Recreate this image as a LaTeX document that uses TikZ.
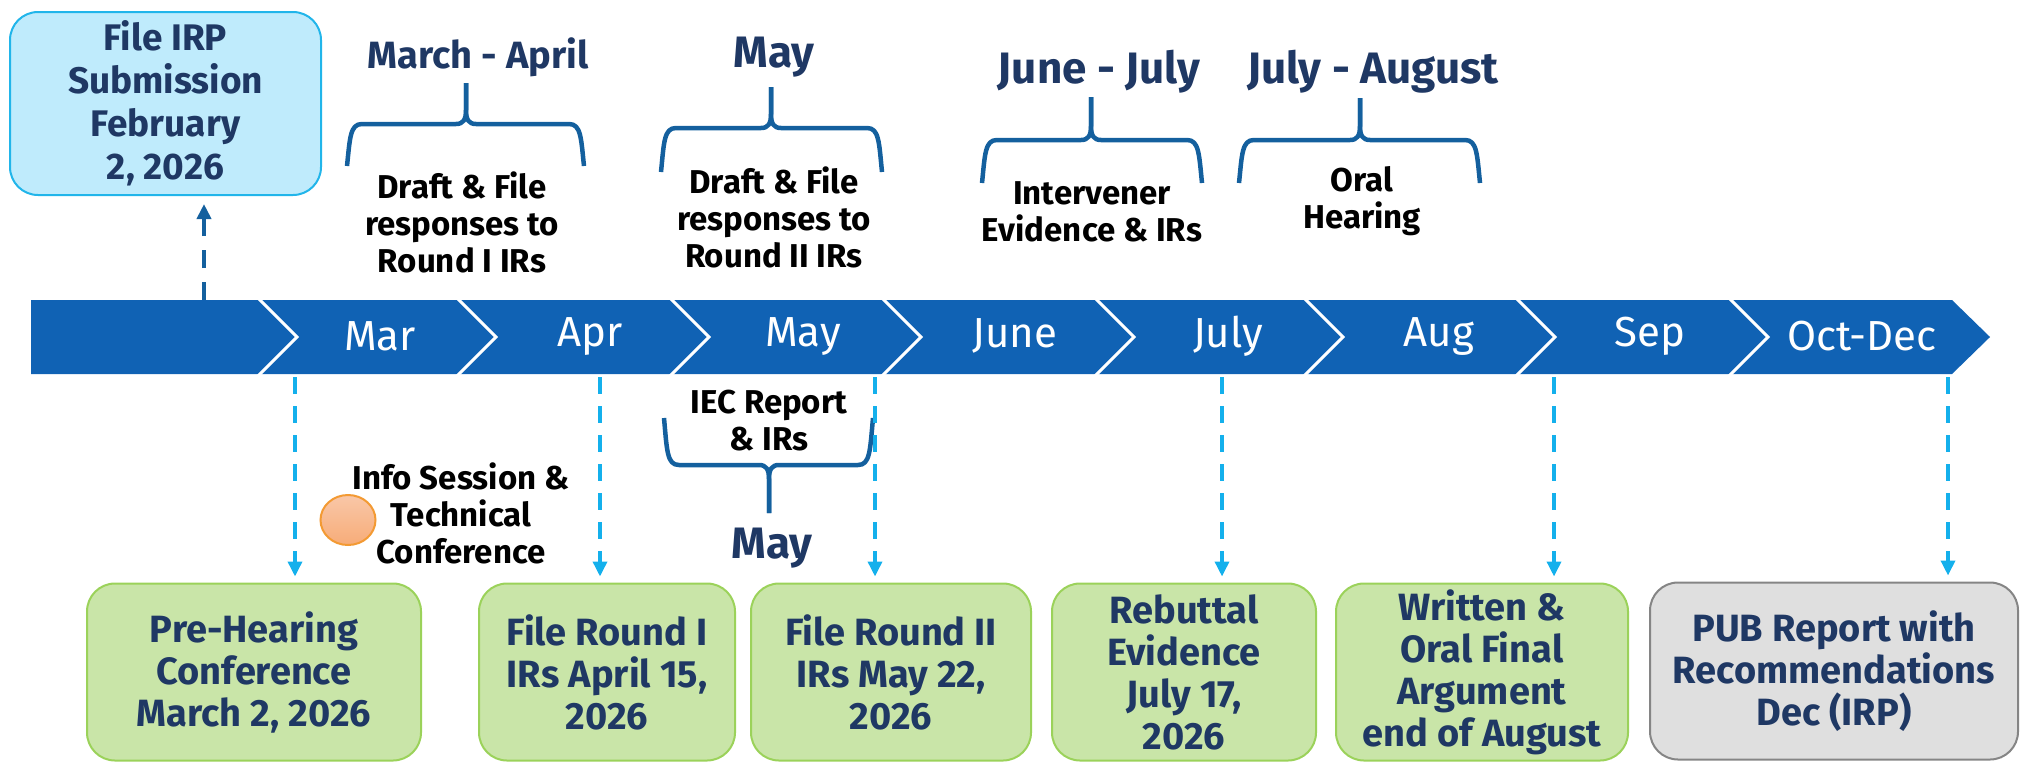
\documentclass[tikz,border=0pt]{standalone}
\usepackage{fontspec}
\setmainfont{Fira Sans}
\usetikzlibrary{arrows.meta,shapes.geometric}
\definecolor{bandblue}{HTML}{1062B4}
\definecolor{navy}{HTML}{1F3864}
\definecolor{bracecol}{HTML}{14609E}
\definecolor{cyanarr}{HTML}{14B0EC}
\definecolor{irpfill}{HTML}{BFEBFC}
\definecolor{irpline}{HTML}{21B5EA}
\definecolor{gfill}{HTML}{C9E5A8}
\definecolor{gline}{HTML}{9BD25A}
\definecolor{grfill}{HTML}{DFDFDF}
\definecolor{grline}{HTML}{858585}
\definecolor{peachA}{HTML}{F9C7A8}
\definecolor{peachB}{HTML}{F7AC78}
\definecolor{orangeline}{HTML}{F39A33}
\newcommand{\mybrace}[7]{%
 \draw[bracestyle] (#1,#5) .. controls ({#1+3},{#4+(14)*(#7)}) and ({#1+3},#4) .. ({#1+15},#4) -- ({#3-10},#4) .. controls ({#3-3},#4) and (#3,{#4-(4)*(#7)}) .. (#3,{#4-(14)*(#7)}) -- (#3,#6);
 \draw[bracestyle] (#2,#5) .. controls ({#2-3},{#4+(14)*(#7)}) and ({#2-3},#4) .. ({#2-15},#4) -- ({#3+10},#4) .. controls ({#3+3},#4) and (#3,{#4-(4)*(#7)}) .. (#3,{#4-(14)*(#7)}) -- (#3,#6);
}
\begin{document}
\begin{tikzpicture}[x=1pt,y=-1pt,
  bracestyle/.style={draw=bracecol,line width=4.5pt,line join=round},
  title/.style={text=navy,font=\fontsize{38}{42}\selectfont\bfseries,align=center,inner sep=0pt},
  bigtitle/.style={title,font=\fontsize{44}{48}\selectfont\bfseries},
  desc/.style={text=black,font=\fontsize{33}{37}\selectfont\bfseries,align=center,inner sep=0pt},
  month/.style={text=white,font=\fontsize{42}{46}\selectfont,inner sep=0pt},
  boxtxt/.style={text=navy,font=\fontsize{38}{42}\selectfont\bfseries,align=center,rounded corners=28pt,line width=2pt,inner sep=0pt},
  gbox/.style={boxtxt,draw=gline,fill=gfill},
  graybox/.style={boxtxt,draw=grline,fill=grfill},
  dnarrow/.style={draw=cyanarr,line width=3.5pt,dash pattern=on 17pt off 12pt,-{Triangle[length=15pt,width=14pt]}},
  uparrow/.style={draw=bracecol,line width=4pt,dash pattern=on 18pt off 14pt,-{Triangle[length=15pt,width=14pt]}}
]
\useasboundingbox (0,0) rectangle (2020,764);

% top-left box
\node[boxtxt,draw=irpline,fill=irpfill,minimum width=311pt,minimum height=183pt,font=\fontsize{37}{43}\selectfont\bfseries] (irp) at (165.5,103.5) {File IRP\\Submission\\February\\2, 2026};

% timeline band
\fill[bandblue] (31,300) -- (1952,300) -- (1990,337) -- (1952,374) -- (31,374) -- cycle;
\foreach \sx in {258,457,670,882,1095,1304,1516,1729}{
  \draw[white,line width=3pt] (\sx,298) -- ({\sx+39},337) -- (\sx,376);
}
\node[month] (mMar) at (380,336) {Mar};
\node[month] (mApr) at (590,336) {Apr};
\node[month] (mMay) at (803,336) {May};
\node[month] (mJun) at (1015,336) {June};
\node[month] (mJul) at (1228,336) {July};
\node[month] (mAug) at (1439,336) {Aug};
\node[month] (mSep) at (1650,336) {Sep};
\node[month] (mOct) at (1862,336) {Oct-Dec};

% up arrow
\coordinate (upstart) at (204,300);
\draw[uparrow,shorten >=8pt] (upstart) -- (upstart |- irp.south);

% top braces and titles
\node[title] (t1) at (478,57) {March - April};
\mybrace{347}{584}{466}{124}{166}{83}{1}
\node[desc] (d1) at (462,222) {Draft \& File\\responses to\\Round I IRs};

\node[bigtitle] (t2) at (774,57) {May};
\mybrace{661}{882}{771}{128}{172}{87}{1}
\node[desc] (d2) at (774,217) {Draft \& File\\responses to\\Round II IRs};

\node[bigtitle] (t3) at (1099,72) {June - July};
\mybrace{982}{1202}{1091}{140}{183}{97}{1}
\node[desc] (d3) at (1092,212) {Intervener\\Evidence \& IRs};

\node[bigtitle] (t4) at (1373,72) {July - August};
\mybrace{1239}{1480}{1360}{140}{183}{98}{1}
\node[desc] (d4) at (1362,201) {Oral\\Hearing};

% IEC brace below band
\node[desc] (iec) at (769,421) {IEC Report\\\& IRs};
\mybrace{664}{873}{769}{465}{418}{513}{-1}
\node[bigtitle] (may2) at (772,548) {May};

% info session
\node[ellipse,draw=orangeline,line width=2pt,top color=peachA,bottom color=peachB,minimum width=55pt,minimum height=50pt,inner sep=0pt] (dot) at (348,520) {};
\node[desc] (info) at (461,513) {Info Session \&\\Technical\\Conference};

% bottom boxes
\node[gbox,minimum width=334pt,minimum height=177pt] (pre) at (254,672) {Pre-Hearing\\Conference\\March 2, 2026};
\node[gbox,minimum width=256pt,minimum height=177pt] (r1) at (607,672) {File Round I\\IRs April 15,\\2026};
\node[gbox,minimum width=280pt,minimum height=177pt] (r2) at (891,672) {File Round II\\IRs May 22,\\2026};
\node[gbox,minimum width=264pt,minimum height=177pt] (reb) at (1184,672) {Rebuttal\\Evidence\\July 17,\\2026};
\node[gbox,minimum width=292pt,minimum height=177pt] (wr) at (1482,672) {Written \&\\Oral Final\\Argument\\end of August};
\node[graybox,minimum width=368pt,minimum height=177pt] (pub) at (1834,671) {PUB Report with\\Recommendations\\Dec (IRP)};

% down arrows
\coordinate (a1) at (295,377);
\coordinate (a2) at (600,377);
\coordinate (a3) at (875,377);
\coordinate (a4) at (1222,377);
\coordinate (a5) at (1554,377);
\coordinate (a6) at (1948,377);
\draw[dnarrow,shorten >=6pt] (a1) -- (a1 |- pre.north);
\draw[dnarrow,shorten >=6pt] (a2) -- (a2 |- r1.north);
\draw[dnarrow,shorten >=6pt] (a3) -- (a3 |- r2.north);
\draw[dnarrow,shorten >=6pt] (a4) -- (a4 |- reb.north);
\draw[dnarrow,shorten >=6pt] (a5) -- (a5 |- wr.north);
\draw[dnarrow,shorten >=6pt] (a6) -- (a6 |- pub.north);
\end{tikzpicture}
\end{document}
